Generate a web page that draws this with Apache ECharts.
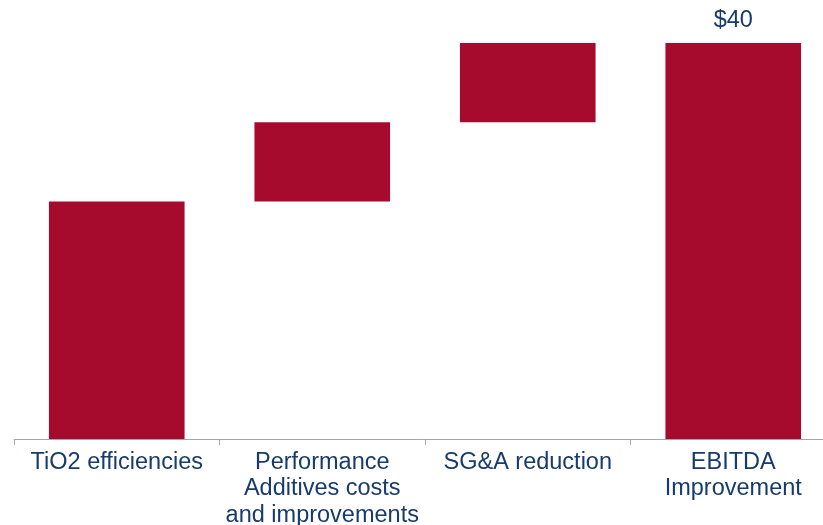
<!DOCTYPE html>
<html>
<head>
<meta charset="utf-8">
<script src="https://cdn.jsdelivr.net/npm/echarts@6/dist/echarts.min.js"></script>
<style>
  html, body { margin: 0; padding: 0; background: #ffffff; }
  #chart { width: 823px; height: 525px; }
</style>
</head>
<body>
<div id="chart"></div>
<script>
// EBITDA bridge ($ millions)
const categories = ['TiO2 efficiencies', 'Performance\nAdditives costs\nand improvements', 'SG&A reduction', 'EBITDA\nImprovement'];
const steps = [24, 8, 8];        // incremental contributions
const totalValue = 40;           // resulting EBITDA improvement
const totalLabel = '$40';

// Invisible base under each floating step; total bar starts at zero
const baseValues = [];
const barValues = [];
let running = 0;
steps.forEach(v => { baseValues.push(running); barValues.push(v); running += v; });
baseValues.push(0);
barValues.push(totalValue);

const BAR = '#A60B2D';
const TEXT = '#163B6C';
const FONT = '"Liberation Sans", Arial, sans-serif';

const chart = echarts.init(document.getElementById('chart'));
chart.setOption({
  animation: false,
  grid: { left: 14, width: 822, top: 43, bottom: 86, outerBoundsMode: 'none', containLabel: false },
  xAxis: {
    type: 'category',
    data: categories,
    axisLine: { show: true, lineStyle: { color: '#A6A6A6', width: 1 } },
    axisTick: { show: true, length: 6, alignWithLabel: false, lineStyle: { color: '#A6A6A6' } },
    axisLabel: {
      interval: 0, color: TEXT, fontFamily: FONT, fontSize: 23.5,
      lineHeight: 26.5, margin: 10
    }
  },
  yAxis: { type: 'value', min: 0, max: 40, show: false, splitLine: { show: false } },
  series: [
    {
      type: 'bar', stack: 'w', data: baseValues, barWidth: '66%',
      itemStyle: { color: 'transparent' }, silent: true
    },
    {
      type: 'bar', stack: 'w', barWidth: '66%',
      data: barValues.map((v, i) => ({
        value: v,
        label: i === barValues.length - 1 ? {
          show: true, position: 'top', distance: 10,
          formatter: totalLabel, color: TEXT, fontFamily: FONT, fontSize: 23.5
        } : { show: false }
      })),
      itemStyle: { color: BAR }
    }
  ]
});
</script>
</body>
</html>
